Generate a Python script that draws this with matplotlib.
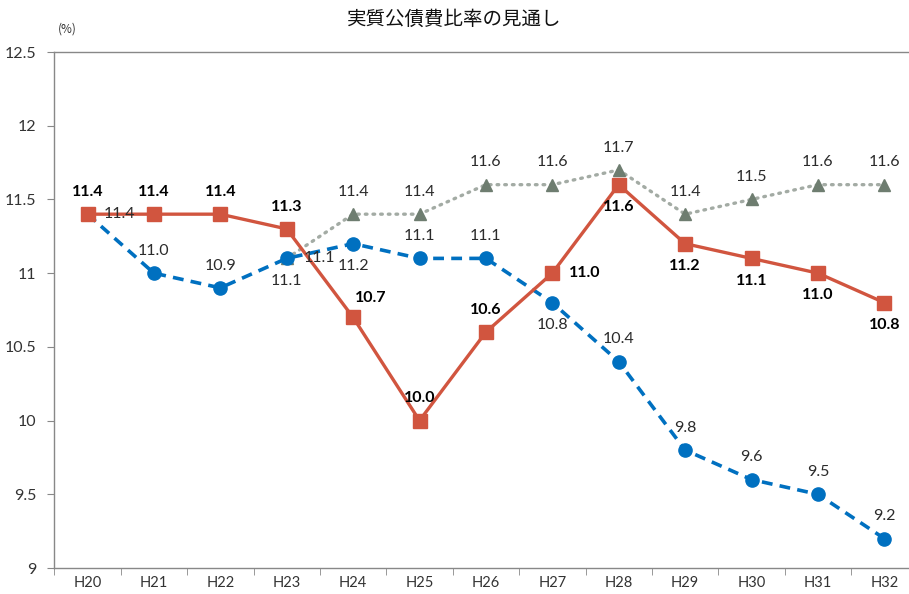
import numpy as np
import matplotlib.pyplot as plt

# categories and series values
years = ["H20", "H21", "H22", "H23", "H24", "H25", "H26",
         "H27", "H28", "H29", "H30", "H31", "H32"]
plan_red = [11.4, 11.4, 11.4, 11.3, 10.7, 10.0, 10.6, 11.0, 11.6, 11.2, 11.1, 11.0, 10.8]
plan_blue = [11.4, 11.0, 10.9, 11.1, 11.2, 11.1, 11.1, 10.8, 10.4, 9.8, 9.6, 9.5, 9.2]
plan_gray = [11.4, np.nan, np.nan, 11.1, 11.4, 11.4, 11.6, 11.6, 11.7, 11.4, 11.5, 11.6, 11.6]

# label placement per point: a=above, b=below, r=right, ar=above-right, None=no label
pos_red = ["a", "a", "a", "a", "ar", "a", "a", "r", "b", "b", "b", "b", "b"]
pos_blue = [None, "a", "a", "b", "b", "a", "a", "b", "a", "a", "a", "a", "a"]
pos_gray = ["r", None, None, "r", "a", "a", "a", "a", "a", "a", "a", "a", "a"]

RED = "#D1553F"
BLUE = "#0070C0"
GRAY_M = "#6E7D70"
GRAY_L = "#A3ABA4"
LBL = "#2b2b2b"

plt.rcParams['font.family'] = ['Lato', 'DejaVu Sans']

fig = plt.figure(figsize=(9.09, 5.94), dpi=100)
ax = fig.add_axes([54.3 / 909, 26 / 594, 863.2 / 909, 516 / 594])

x = np.arange(len(years))

# gray (dotted) – line from H23 on, H20 point hidden under red
ax.plot(x, plan_gray, color=GRAY_L, lw=2.4, ls=(0, (0.5, 1.8)),
        dash_capstyle="round", zorder=2)
ax.plot(x, plan_gray, ls="none", marker="^", ms=9, color=GRAY_M, zorder=2.1)

ax.plot(x, plan_blue, color=BLUE, lw=2.6, ls=(0, (3, 2)), marker="o",
        ms=9.5, zorder=3)
ax.plot(x, plan_red, color=RED, lw=2.4, marker="s", ms=10.5, zorder=4)

offsets = {"a": (0, 16), "b": (0, -16), "r": (12, 0), "ar": (13, 14)}


def put_labels(vals, poss, bold, color):
    for xi, v, p in zip(x, vals, poss):
        if p is None or np.isnan(v):
            continue
        dx, dy = offsets[p]
        ha = "left" if p == "r" else "center"
        ax.annotate(f"{v:.1f}", (xi, v), xytext=(dx, dy), textcoords="offset points",
                    ha=ha, va="center", fontsize=11.5, color=color,
                    fontweight="bold" if bold else "normal", zorder=6)


put_labels(plan_gray, pos_gray, False, LBL)
put_labels(plan_blue, pos_blue, False, LBL)
put_labels(plan_red, pos_red, True, "black")

ax.set_xlim(-0.5, len(years) - 0.5)
ax.set_ylim(9, 12.5)
ax.set_yticks(np.arange(9, 12.51, 0.5))
ax.set_yticklabels(["9", "9.5", "10", "10.5", "11", "11.5", "12", "12.5"])
ax.set_xticks(x)
ax.set_xticklabels(years)
ax.set_xticks(np.arange(-0.5, len(years), 1), minor=True)
ax.tick_params(axis="x", which="major", length=0, pad=6, labelsize=10.5, labelcolor="#333333")
ax.tick_params(axis="x", which="minor", length=5, color="#888888")
ax.tick_params(axis="y", length=5, color="#888888", labelsize=11.5, labelcolor="#333333", pad=8)

for s in ["left", "bottom", "top"]:
    ax.spines[s].set_color("#888888")
    ax.spines[s].set_linewidth(1.0)
ax.spines["right"].set_visible(False)

fig.text(0.5, 1 - 19 / 594, "実質公債費比率の見通し", ha="center", va="center",
         fontsize=14, family=["Noto Sans CJK JP"], color="#111111")
fig.text(67 / 909, 1 - 29 / 594, "(%)", ha="center", va="center",
         fontsize=8.5, family=["Noto Sans CJK JP"], color="#333333")

fig.savefig("out.png", dpi=100)
